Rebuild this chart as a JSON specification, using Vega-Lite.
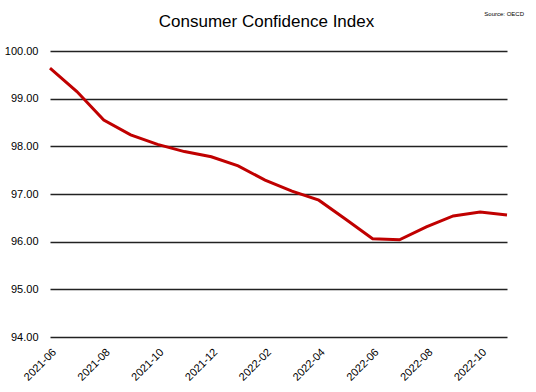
{
  "$schema": "https://vega.github.io/schema/vega-lite/v6.json",
  "autosize": {"type": "none"},
  "width": 457,
  "height": 286,
  "padding": {"left": 50, "top": 51, "right": 29, "bottom": 55},
  "background": "white",
  "config": {"view": {"stroke": null}, "font": "Liberation Sans"},
  "title": {"text": "Consumer Confidence Index", "fontSize": 17, "fontWeight": "normal", "font": "Liberation Sans", "color": "black", "offset": -20, "dx": -12},
  "data": {"values": [
    {"month": "2021-06", "cci": 99.64},
    {"month": "2021-07", "cci": 99.15},
    {"month": "2021-08", "cci": 98.55},
    {"month": "2021-09", "cci": 98.24},
    {"month": "2021-10", "cci": 98.04},
    {"month": "2021-11", "cci": 97.89},
    {"month": "2021-12", "cci": 97.78},
    {"month": "2022-01", "cci": 97.59},
    {"month": "2022-02", "cci": 97.29},
    {"month": "2022-03", "cci": 97.06},
    {"month": "2022-04", "cci": 96.87},
    {"month": "2022-05", "cci": 96.47},
    {"month": "2022-06", "cci": 96.06},
    {"month": "2022-07", "cci": 96.04},
    {"month": "2022-08", "cci": 96.31},
    {"month": "2022-09", "cci": 96.54},
    {"month": "2022-10", "cci": 96.62},
    {"month": "2022-11", "cci": 96.56}
  ]},
  "layer": [
    {
      "mark": {"type": "line", "color": "#C00000", "strokeWidth": 3},
      "encoding": {
        "x": {"field": "month", "type": "ordinal", "sort": null, "scale": {"type": "point", "padding": 0},
          "axis": {"title": null, "values": ["2021-06","2021-08","2021-10","2021-12","2022-02","2022-04","2022-06","2022-08","2022-10"],
            "labelAngle": -45, "domain": false, "ticks": false, "grid": false, "labelFontSize": 11, "labelColor": "black", "labelPadding": 9}},
        "y": {"field": "cci", "type": "quantitative", "scale": {"domain": [94, 100], "nice": false, "zero": false},
          "axis": {"title": null, "values": [94,95,96,97,98,99,100], "format": ".2f", "domain": false, "ticks": false,
            "grid": true, "gridColor": "#222", "gridWidth": 1.3, "labelFontSize": 11, "labelColor": "black", "labelPadding": 12}}
      }
    },
    {
      "data": {"values": [{"month": "2022-11", "cci": 100.78, "label": "Source: OECD"}]},
      "mark": {"type": "text", "align": "right", "baseline": "middle", "fontSize": 6, "dx": 17, "color": "black"},
      "encoding": {
        "x": {"field": "month", "type": "ordinal"},
        "y": {"field": "cci", "type": "quantitative"},
        "text": {"field": "label"}
      }
    }
  ]
}
